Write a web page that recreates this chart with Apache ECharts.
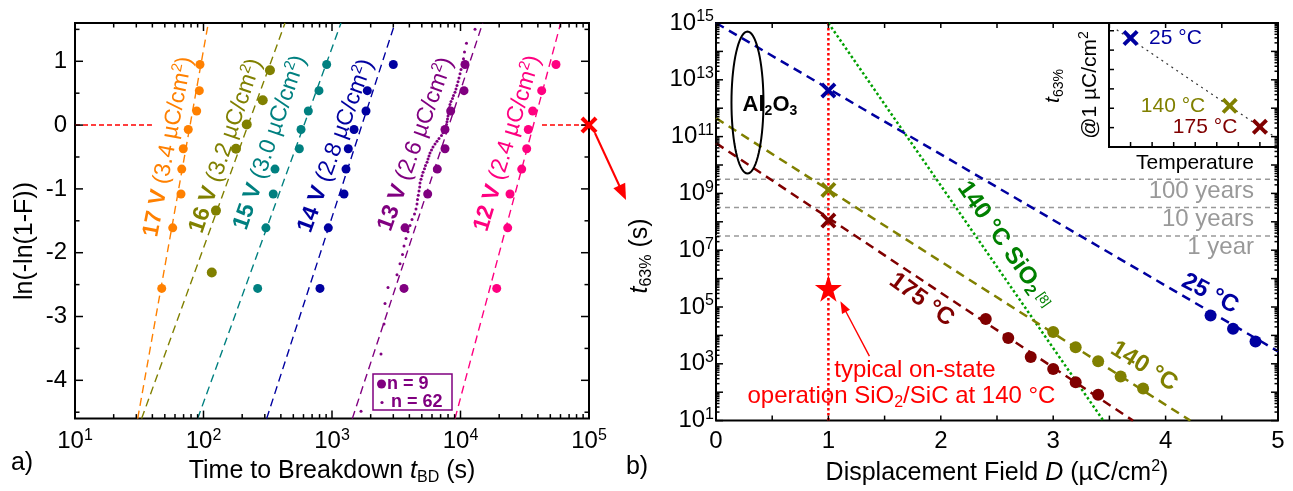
<!DOCTYPE html>
<html><head><meta charset="utf-8">
<script src="https://cdn.jsdelivr.net/npm/echarts@6/dist/echarts.min.js"></script>
<style>html,body{margin:0;padding:0;background:#fff}#c{width:1293px;height:491px}</style>
</head><body><div id="c"></div>
<script>
const FONT = '"Liberation Sans", Arial, Helvetica, sans-serif';

// ---------------- Panel a) Weibull plot ----------------
const weibullY9 = [-2.56,-1.61,-1.08,-0.69,-0.37,-0.07,0.22,0.54,0.95];
const weibullY16 = [-2.31,-1.34,-0.37,0.01,0.39,0.86];
const t17V = [47.3,57.6,66.8,67.7,69.6,76.1,88.5,92.8,93.9];
const t16V = [116,125,179,217,289,329];
const t15V = [264,306,349,360,557,574,654,792,909];
const t14V = [806,936,1240,1285,1339,1484,1839,1883,3000];
const t13V = [3634,3700,5555,6600,7574,7574,8387,10650,10840];
const t12V = [19130,23300,24280,29950,32750,33700,36470,42840,55360];
const weibullY62 = [-4.485,-3.589,-3.118,-2.795,-2.547,-2.345,-2.175,-2.027,-1.896,-1.778,
  -1.671,-1.572,-1.480,-1.395,-1.315,-1.238,-1.166,-1.098,-1.032,-0.969,
  -0.909,-0.850,-0.794,-0.739,-0.685,-0.633,-0.583,-0.533,-0.484,-0.437,
  -0.390,-0.344,-0.298,-0.253,-0.209,-0.164,-0.121,-0.077,-0.034,0.009,
  0.052,0.095,0.142,0.187,0.231,0.276,0.322,0.369,0.416,0.465,
  0.515,0.567,0.621,0.678,0.738,0.803,0.873,0.950,1.039,1.144,
  1.282,1.502];
const t13V62 = [1682,2406,2540,2585,2728,3205,3383,3538,3633,3767,
  3905,4047,4195,4385,4505,4587,4628,4695,4753,4814,
  4840,4928,5018,5108,5246,5341,5487,5586,5687,5790,
  5948,6109,6332,6563,6804,7114,7308,7507,7643,7782,
  7851,7921,7992,8064,8137,8210,8284,8434,8663,8820,
  9061,9226,9393,9562,9736,9911,10090,10366,10552,10743,
  11135,12969];
// fit lines: times at y = fitY[0] and fitY[1]
const fitY = [-4.6, 1.6];
const fit17 = [30.75, 109];
const fit16 = [33.0, 431];
const fit15 = [90.1, 1175];
const fit14 = [310, 3093];
const fit13 = [1439, 14890];
const fit12 = [9061, 60230];
const refLineA1 = [[10, 0], [39.7, 0]];
const refLineA2 = [[43050, 0], [100000, 0]];
const refPointA = [100000, 0];
const voltLabels = ['17 V','16 V','15 V','14 V','13 V','12 V'];
const fieldLabels = ['3.4','3.2','3.0','2.8','2.6','2.4'];
const voltLabelT = [53.2, 149, 329, 1071, 4487, 23220];
const voltLabelY = [-0.34, -0.325, -0.273, -0.325, -0.30, -0.286];
const logTicksA = [10, 100, 1000, 10000, 100000];
const linTicksA = [-4, -3, -2, -1, 0, 1];

// ---------------- Panel b) lifetime vs field ----------------
const fit25 = [[0, 1e15], [5, 2750]];
const fit140 = [[0, 4.47e11], [4.22, 10]];
const fit175 = [[0, 5.9e10], [3.71, 10]];
const fitSiO2 = [[1, 1e15], [3.446, 10]];
const D25 = [4.4, 4.6, 4.8];           const tau25 = [50600, 17200, 6150];
const D140 = [3.0, 3.2, 3.4, 3.6, 3.8]; const tau140 = [13200, 3800, 1230, 360, 134];
const D175 = [2.4, 2.6, 2.8, 3.0, 3.2, 3.4]; const tau175 = [37800, 8110, 1740, 658, 222, 82];
const crossD = 1;
const crossTau = [4.2e12, 1.33e9, 1.1e8];   // 25, 140, 175 °C at 1 µC/cm²
const opLine = [[1, 10], [1, 1e15]];
const starTau = 4.6e5;
const yearSeconds = [3.156e7, 3.156e8, 3.156e9];
const yearLabels = ['1 year', '10 years', '100 years'];
const yearLabelTau = [1.22e7, 1.17e8, 1.16e9];
const logTicksB = [10, 1e3, 1e5, 1e7, 1e9, 1e11, 1e13, 1e15];
const linTicksB = [0, 1, 2, 3, 4, 5];
// inset
const insetTemps = [25, 140, 175];
const insetFit = [[9, 1.12e13], [192, 3.4e7]];

const cOrange = '#ff8000', cOlive = '#808000', cTeal = '#008080', cBlue = '#0000a0',
      cPurple = '#800080', cPink = '#ff0080', cDarkRed = '#800000', cGreen = '#008000', cGreenLine = '#00a000', cRed = '#ff0000';
const colorsA = [cOrange, cOlive, cTeal, cBlue, cPurple, cPink];
const anglesA = [79, 71, 71, 70, 70, 73];

const chart = echarts.init(document.getElementById('c'));

const expFmt = v => '{b|10}{s|' + Math.round(Math.log10(v)) + '}';
// keep label positions a hair inside the axis extent (float rounding of log extents)
const inside = arr => arr.map((v, i) => i === arr.length - 1 ? v * 0.99999 : (i === 0 ? v * 1.00001 : v));
const richExp = {
  b: {fontSize: 24, fontFamily: FONT, color: '#000', lineHeight: 28},
  s: {fontSize: 16, fontFamily: FONT, color: '#000', lineHeight: 12, verticalAlign: 'top'}
};
function R(color, size) {
  size = size || 24;
  return {
    v: {fontSize: size, fontWeight: 'bold', color, fontFamily: FONT, lineHeight: size + 4},
    f: {fontSize: size, color, fontFamily: FONT, lineHeight: size + 4},
    p: {fontSize: Math.round(size * 0.65), color, fontFamily: FONT, lineHeight: 12, verticalAlign: 'top'},
    bs: {fontSize: Math.round(size * 0.65), fontWeight: 'bold', color, fontFamily: FONT, lineHeight: 10, verticalAlign: 'bottom'},
    rs: {fontSize: Math.round(size * 0.65), color, fontFamily: FONT, lineHeight: 10, verticalAlign: 'bottom'},
    g: {fontSize: Math.round(size * 0.55), color, fontFamily: FONT, lineHeight: size + 4}
  };
}

function dots(gi, xs, ys, color, size, symbol) {
  return {type: 'scatter', xAxisIndex: gi, yAxisIndex: gi, data: xs.map((x, i) => [x, ys[i]]),
    symbol: symbol || 'circle', symbolSize: size, itemStyle: {color, opacity: 1}, z: 4, silent: true};
}
function line(gi, data, color, width, type, z) {
  return {type: 'line', xAxisIndex: gi, yAxisIndex: gi, data, symbol: 'none', showSymbol: false,
    lineStyle: {color, width, type, cap: 'butt', opacity: 1}, z: z || 2, silent: true};
}
function fitLine(ts, color) {
  return line(0, [[ts[0], fitY[0]], [ts[1], fitY[1]]], color, 1.4, [8, 5]);
}
function texts(gi, items) {
  return {type: 'scatter', xAxisIndex: gi, yAxisIndex: gi, symbolSize: 1, symbol: 'circle',
    itemStyle: {color: 'rgba(0,0,0,0)', opacity: 1}, silent: true, clip: false, z: 10,
    label: {show: true, position: 'inside', fontFamily: FONT, opacity: 1, textBorderWidth: 0, color: '#000'},
    data: items};
}
function tickSeries(gi, refX, refY, xTicks, yTicks, sides) {
  return {
    type: 'custom', xAxisIndex: gi, yAxisIndex: gi, data: [[refX, refY]], silent: true, z: 6, clip: false,
    renderItem: function (params, api) {
      const cs = params.coordSys, ch = [];
      const st = {stroke: '#000', lineWidth: 1.5};
      const bot = cs.y + cs.height, top = cs.y, lf = cs.x, rt = cs.x + cs.width;
      xTicks.forEach(([v, len]) => {
        const px = api.coord([v, refY])[0];
        if (sides.bottom) ch.push({type: 'line', shape: {x1: px, y1: bot, x2: px, y2: bot - len}, style: st});
        if (sides.top) ch.push({type: 'line', shape: {x1: px, y1: top, x2: px, y2: top + len}, style: st});
      });
      yTicks.forEach(([v, len]) => {
        const py = api.coord([refX, v])[1];
        if (sides.left) ch.push({type: 'line', shape: {x1: lf, y1: py, x2: lf + len, y2: py}, style: st});
        if (sides.right) ch.push({type: 'line', shape: {x1: rt, y1: py, x2: rt - len, y2: py}, style: st});
      });
      return {type: 'group', children: ch};
    }
  };
}
function logTicks(e0, e1, major, minor) {
  const out = [];
  for (let e = e0; e <= e1; e++) {
    out.push([Math.pow(10, e), major]);
    if (e < e1) for (let m = 2; m <= 9; m++) out.push([m * Math.pow(10, e), minor]);
  }
  return out;
}

// ----- tick sets -----
const ticksAx = logTicks(1, 5, 8, 4.5);
const ticksAy = [];
for (let v = -4.5; v <= 1.5; v += 0.5) ticksAy.push([v, Math.abs(v - Math.round(v)) < 1e-9 ? 8 : 4.5]);
const ticksBx = [];
for (let v = 0.5; v < 5; v += 0.5) ticksBx.push([v, 5]);
const ticksBy = logTicks(1, 15, 7, 3.5);
const ticksIx = [25, 50, 75, 100, 125, 150, 175].map(v => [v, 5]);
const ticksIy = [1e8, 1e9, 1e10, 1e11, 1e12, 1e13].map(v => [v, 5]);

// ----- label items -----
function lab(color, extra) {
  return Object.assign({color, opacity: 1, textBorderWidth: 0}, extra);
}
const voltItems = voltLabels.map((v, i) => ({
  value: [voltLabelT[i], voltLabelY[i]],
  label: lab(colorsA[i], {
    rotate: anglesA[i],
    formatter: '{v|' + v + ' }{f|(' + fieldLabels[i] + ' µC/cm}{p|2}{f|)}',
    rich: R(colorsA[i], 23)
  })
}));
const bItems = [
  {value: [4.395, 2.93e5], label: lab(cBlue, {rotate: -28, formatter: '{v|25 °C}', rich: R(cBlue, 24)})},
  {value: [3.808, 813], label: lab(cOlive, {rotate: -32, formatter: '{v|140 °C}', rich: R(cOlive, 24)})},
  {value: [1.83, 1.8e5], label: lab(cDarkRed, {rotate: -36, formatter: '{v|175 °C}', rich: R(cDarkRed, 24)})},
  {value: [2.571, 1.55e7], label: lab(cGreen, {rotate: -55, formatter: '{v|140 °C SiO}{bs|2}{g| [8]}', rich: R(cGreen, 24)})},
  {value: [1.770, 574], label: lab(cRed, {formatter: '{f|typical on-state}', rich: R(cRed, 24)})},
  {value: [1.650, 69.8], label: lab(cRed, {formatter: '{f|operation SiO}{rs|2}{f|/SiC at 140 °C}', rich: R(cRed, 24)})},
  {value: [0.48, 1.3e12], label: lab('#000', {formatter: '{v|Al}{bs|2}{v|O}{bs|3}', rich: R('#000', 22)})}
].concat(yearLabels.map((t, i) => ({
  value: [4.787, yearLabelTau[i]], label: lab('#999999', {align: 'right', formatter: '{f|' + t + '}', rich: R('#999999', 24)})
})));
const insetItems = [
  {value: [46.5, 4.3e12], label: lab(cBlue, {align: 'left', formatter: '{f|25 °C}', rich: R(cBlue, 21)})},
  {value: [111.6, 1.29e9], label: lab(cOlive, {align: 'right', formatter: '{f|140 °C}', rich: R(cOlive, 21)})},
  {value: [148.8, 1.05e8], label: lab(cDarkRed, {align: 'right', formatter: '{f|175 °C}', rich: R(cDarkRed, 21)})}
];

const crossPath = 'path://M0,1.7L1.7,0L5,3.3L8.3,0L10,1.7L6.7,5L10,8.3L8.3,10L5,6.7L1.7,10L0,8.3L3.3,5Z';
const starPath = 'path://M50,0L61,35L98,35L68,57L79,91L50,70L21,91L32,57L2,35L39,35Z';
const crossColors = [cBlue, cOlive, cDarkRed];

const option = {
  animation: false,
  backgroundColor: '#fff',
  textStyle: {fontFamily: FONT},
  grid: [
    {left: 75, top: 23, width: 514, height: 398, show: true, borderColor: '#000', borderWidth: 2, backgroundColor: 'transparent'},
    {left: 716, top: 23, width: 562, height: 398, show: true, borderColor: '#000', borderWidth: 2, backgroundColor: 'transparent'},
    {left: 1109, top: 23, width: 169, height: 124, show: true, borderColor: '#000', borderWidth: 2, backgroundColor: '#fff', z: 3}
  ],
  xAxis: [
    {gridIndex: 0, type: 'log', logBase: 10, min: 10, max: 100000,
     axisLine: {show: false}, axisTick: {show: false}, splitLine: {show: false}, minorTick: {show: false},
     axisLabel: {customValues: inside(logTicksA), formatter: expFmt, rich: richExp, margin: 9, showMinLabel: true, showMaxLabel: true, hideOverlap: false},
     name: '{n|Time to Breakdown }{i|t}{sub|BD}{n| (s)}', nameLocation: 'middle', nameGap: 30,
     nameTextStyle: {rich: {
       n: {fontSize: 25, fontFamily: FONT, color: '#000', lineHeight: 30},
       i: {fontSize: 25, fontFamily: FONT, fontStyle: 'italic', color: '#000', lineHeight: 30},
       sub: {fontSize: 16, fontFamily: FONT, color: '#000', lineHeight: 10, verticalAlign: 'bottom'}}}},
    {gridIndex: 1, type: 'value', min: 0, max: 5, interval: 1,
     axisLine: {show: false}, axisTick: {show: false}, splitLine: {show: false},
     axisLabel: {customValues: linTicksB, fontSize: 24, color: '#000', margin: 9, fontFamily: FONT, showMinLabel: true, showMaxLabel: true},
     name: '{n|Displacement Field }{i|D}{n| (µC/cm}{sup|2}{n|)}', nameLocation: 'middle', nameGap: 28,
     nameTextStyle: {rich: {
       n: {fontSize: 25, fontFamily: FONT, color: '#000', lineHeight: 30},
       i: {fontSize: 25, fontFamily: FONT, fontStyle: 'italic', color: '#000', lineHeight: 30},
       sup: {fontSize: 16, fontFamily: FONT, color: '#000', lineHeight: 12, verticalAlign: 'top'}}}},
    {gridIndex: 2, type: 'value', min: 0, max: 196,
     axisLine: {show: false}, axisTick: {show: false}, splitLine: {show: false}, axisLabel: {show: false}}
  ],
  yAxis: [
    {gridIndex: 0, type: 'value', min: -4.6, max: 1.6,
     axisLine: {show: false}, axisTick: {show: false}, splitLine: {show: false},
     axisLabel: {customValues: linTicksA, fontSize: 24, color: '#000', margin: 8, fontFamily: FONT}},
    {gridIndex: 1, type: 'log', logBase: 10, min: 10, max: 1e15,
     axisLine: {show: false}, axisTick: {show: false}, splitLine: {show: false}, minorTick: {show: false},
     axisLabel: {customValues: inside(logTicksB), formatter: expFmt, rich: richExp, margin: 2, showMinLabel: true, showMaxLabel: true, hideOverlap: false}},
    {gridIndex: 2, type: 'log', logBase: 10, min: 1e7, max: 2.51e13,
     axisLine: {show: false}, axisTick: {show: false}, splitLine: {show: false}, axisLabel: {show: false}}
  ],
  series: [
    // ---- panel a ----
    line(0, refLineA1, cRed, 1.5, [5, 3]),
    line(0, refLineA2, cRed, 1.5, [5, 3]),
    fitLine(fit17, cOrange), fitLine(fit16, cOlive), fitLine(fit15, cTeal),
    fitLine(fit14, cBlue), fitLine(fit13, cPurple), fitLine(fit12, cPink),
    dots(0, t17V, weibullY9, cOrange, 9),
    dots(0, t16V, weibullY16, cOlive, 10),
    dots(0, t15V, weibullY9, cTeal, 9),
    dots(0, t14V, weibullY9, cBlue, 9),
    dots(0, t13V, weibullY9, cPurple, 9),
    dots(0, t13V62, weibullY62, cPurple, 3),
    dots(0, t12V, weibullY9, cPink, 9),
    Object.assign(dots(0, [refPointA[0]], [refPointA[1]], cRed, 17, crossPath), {clip: false, z: 8}),
    texts(0, voltItems),
    tickSeries(0, 100, 0, ticksAx, ticksAy, {bottom: true, top: true, left: true, right: true}),
    // ---- panel b ----
    ...yearSeconds.map(s => line(1, [[0, s], [5, s]], '#999999', 1.5, [5, 4], 1)),
    line(1, opLine, cRed, 2.5, 'dotted', 2),
    line(1, fitSiO2, cGreenLine, 2.5, 'dotted', 2),
    line(1, fit25, cBlue, 2.5, [9, 6]),
    line(1, fit140, cOlive, 2.5, [9, 6]),
    line(1, fit175, cDarkRed, 2.5, [9, 6]),
    dots(1, D25, tau25, cBlue, 12),
    dots(1, D140, tau140, cOlive, 12),
    dots(1, D175, tau175, cDarkRed, 12),
    {type: 'scatter', xAxisIndex: 1, yAxisIndex: 1, symbol: crossPath, symbolSize: 16, silent: true, z: 5,
     data: crossTau.map((t, i) => ({value: [crossD, t], itemStyle: {color: crossColors[i], opacity: 1}}))},
    dots(1, [crossD], [starTau], cRed, 27, starPath),
    texts(1, bItems),
    tickSeries(1, 2, 1e5, ticksBx, ticksBy, {bottom: true, top: true, left: true, right: true}),
    // ---- inset ----
    line(2, insetFit, '#333333', 1.2, [2, 4], 4),
    {type: 'scatter', xAxisIndex: 2, yAxisIndex: 2, symbol: crossPath, symbolSize: 16, silent: true, z: 5,
     data: insetTemps.map((T, i) => ({value: [T, crossTau[i]], itemStyle: {color: crossColors[i], opacity: 1}}))},
    texts(2, insetItems),
    tickSeries(2, 100, 1e10, ticksIx, ticksIy, {bottom: true, left: true})
  ]
};
chart.setOption(option);

// ---------- annotations (graphic) ----------
function arrow(x1, y1, x2, y2, color, w, hl, hw) {
  const dx = x2 - x1, dy = y2 - y1, L = Math.hypot(dx, dy), ux = dx / L, uy = dy / L;
  const bx = x2 - ux * hl, by = y2 - uy * hl;
  return [
    {type: 'line', z: 30, shape: {x1, y1, x2: bx + ux * 2, y2: by + uy * 2}, style: {stroke: color, lineWidth: w}},
    {type: 'polygon', z: 30, shape: {points: [[x2, y2], [bx - uy * hw, by + ux * hw], [bx + uy * hw, by - ux * hw]]}, style: {fill: color}}
  ];
}
const g = [];
const pa = chart.convertToPixel({gridIndex: 0}, refPointA);
g.push(...arrow(pa[0] + 6, pa[1] + 8, pa[0] + 37, pa[1] + 75, cRed, 2.2, 16, 6.5));
const ps = chart.convertToPixel({gridIndex: 1}, [crossD, starTau]);
g.push(...arrow(ps[0] + 41, ps[1] + 68, ps[0] + 12, ps[1] + 13, cRed, 1.4, 12, 4.5));
const pe = chart.convertToPixel({gridIndex: 1}, [0.28, 1.58e12]);
const ell = [];
for (let k = 0; k < 72; k++) { const a = k / 72 * 2 * Math.PI; ell.push([pe[0] + 16 * Math.cos(a), pe[1] + 71 * Math.sin(a)]); }
g.push({type: 'polygon', z: 30, shape: {points: ell}, style: {fill: 'none', stroke: '#000', lineWidth: 2}});
// legend box for 13 V
g.push({type: 'rect', z: 30, shape: {x: 373, y: 374, width: 79, height: 36}, style: {fill: '#fff', stroke: cPurple, lineWidth: 1.5}});
g.push({type: 'circle', z: 31, shape: {cx: 381.5, cy: 384, r: 4.5}, style: {fill: cPurple}});
g.push({type: 'circle', z: 31, shape: {cx: 382, cy: 402.5, r: 1.6}, style: {fill: cPurple}});
g.push({type: 'text', z: 31, x: 387, y: 384, style: {text: 'n = 9', font: 'bold 18px ' + FONT, fill: cPurple, verticalAlign: 'middle'}});
g.push({type: 'text', z: 31, x: 391, y: 402, style: {text: 'n = 62', font: 'bold 18px ' + FONT, fill: cPurple, verticalAlign: 'middle'}});
// panel letters
g.push({type: 'text', z: 31, x: 22, y: 463, style: {text: 'a)', font: '25px ' + FONT, fill: '#000', align: 'center', verticalAlign: 'middle'}});
g.push({type: 'text', z: 31, x: 637, y: 467, style: {text: 'b)', font: '25px ' + FONT, fill: '#000', align: 'center', verticalAlign: 'middle'}});
// y axis titles
g.push({type: 'text', z: 31, x: 25, y: 241, rotation: Math.PI / 2,
  style: {text: 'ln(-ln(1-F))', font: '25px ' + FONT, fill: '#000', align: 'center', verticalAlign: 'middle'}});
g.push({type: 'text', z: 31, x: 640, y: 256, rotation: Math.PI / 2,
  style: {text: '{i|t}{s|63%}{n| (s)}', align: 'center', verticalAlign: 'middle',
    rich: {i: {font: 'italic 25px ' + FONT, fill: '#000', lineHeight: 30},
           s: {font: '16px ' + FONT, fill: '#000', lineHeight: 10, verticalAlign: 'bottom'},
           n: {font: '25px ' + FONT, fill: '#000', lineHeight: 30}}}});
// inset titles
g.push({type: 'text', z: 31, x: 1053, y: 86, rotation: Math.PI / 2,
  style: {text: '{i|t}{s|63%}', align: 'center', verticalAlign: 'middle',
    rich: {i: {font: 'italic 21px ' + FONT, fill: '#000', lineHeight: 26},
           s: {font: '14px ' + FONT, fill: '#000', lineHeight: 8, verticalAlign: 'bottom'}}}});
g.push({type: 'text', z: 31, x: 1090, y: 85, rotation: Math.PI / 2,
  style: {text: '{n|@1 µC/cm}{p|2}', align: 'center', verticalAlign: 'middle',
    rich: {n: {font: '21px ' + FONT, fill: '#000', lineHeight: 26},
           p: {font: '14px ' + FONT, fill: '#000', lineHeight: 10, verticalAlign: 'top'}}}});
g.push({type: 'text', z: 31, x: 1195, y: 163, style: {text: 'Temperature', font: '21px ' + FONT, fill: '#000', align: 'center', verticalAlign: 'middle'}});
chart.setOption({graphic: g});
</script>
</body></html>
